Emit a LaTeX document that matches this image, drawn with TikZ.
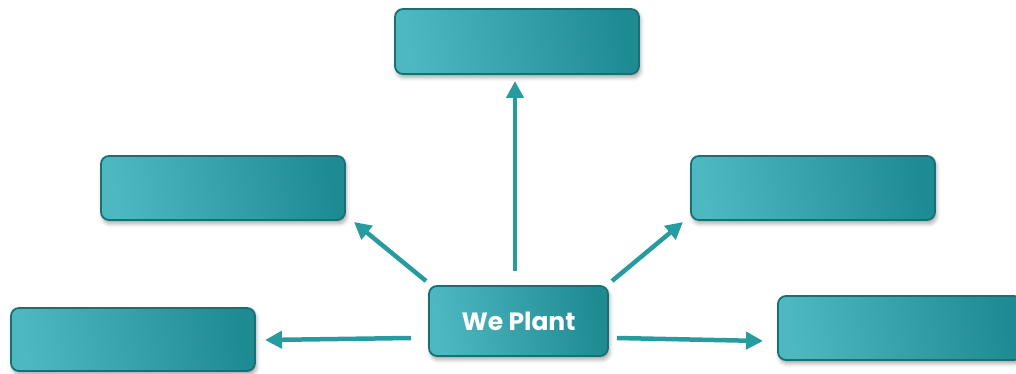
\documentclass[tikz,border=0pt]{standalone}
\usepackage{fontspec}
\setmainfont{Poppins}
\usetikzlibrary{calc,arrows.meta,shadows.blur}
\definecolor{tealLight}{RGB}{78,184,192}
\definecolor{tealDark}{RGB}{30,138,145}
\definecolor{tealEdge}{RGB}{22,112,118}
\definecolor{tealArrow}{RGB}{38,155,160}
\tikzset{
  tealbox/.style={draw=tealEdge, line width=1.8pt, rounded corners=8pt,
    left color=tealLight, right color=tealDark, shading angle=100,
    inner sep=0pt, outer sep=0pt,
    blur shadow={shadow xshift=1.5pt, shadow yshift=-3.5pt,
      shadow blur radius=4pt, shadow opacity=35}},
  link/.style={draw=tealArrow, line width=4.5pt,
    -{Triangle[length=17pt,width=17pt]}}
}
\begin{document}
\begin{tikzpicture}[x=1pt,y=-1pt]
  \useasboundingbox (0,0) rectangle (1016,374);
  \clip (0,0) rectangle (1016,374);
  % satellite boxes
  \node[tealbox, minimum width=244pt, minimum height=65pt] (top) at (517,41.5) {};
  \node[tealbox, minimum width=244pt, minimum height=64pt] (lm) at (223,188) {};
  \node[tealbox, minimum width=244pt, minimum height=64pt] (rm) at (813,188) {};
  \node[tealbox, minimum width=244pt, minimum height=63pt] (bl) at (133,339.5) {};
  \node[tealbox, minimum width=244pt, minimum height=64pt] (br) at (900,328) {};
  % central box
  \node[tealbox, minimum width=179pt, minimum height=70pt, text=white,
        font=\fontsize{25}{30}\selectfont\bfseries] (c) at (518.5,321) {We Plant};
  % connectors
  \draw[link] ($(c.north)+(-3.5,-15)$) -- ($(top.south)+(-2,7)$);
  \draw[link] ($(c.north west)+(-3,-5)$) -- ($(lm.south east)+(9,2)$);
  \draw[link] ($(c.north east)+(4,-5)$) -- ($(rm.south west)+(-8,2)$);
  \draw[link] ($(c.west)+(-18,17)$) -- ($(bl.east)+(10,0.5)$);
  \draw[link] ($(c.east)+(9,17)$) -- ($(br.west)+(-15,13)$);
\end{tikzpicture}
\end{document}
